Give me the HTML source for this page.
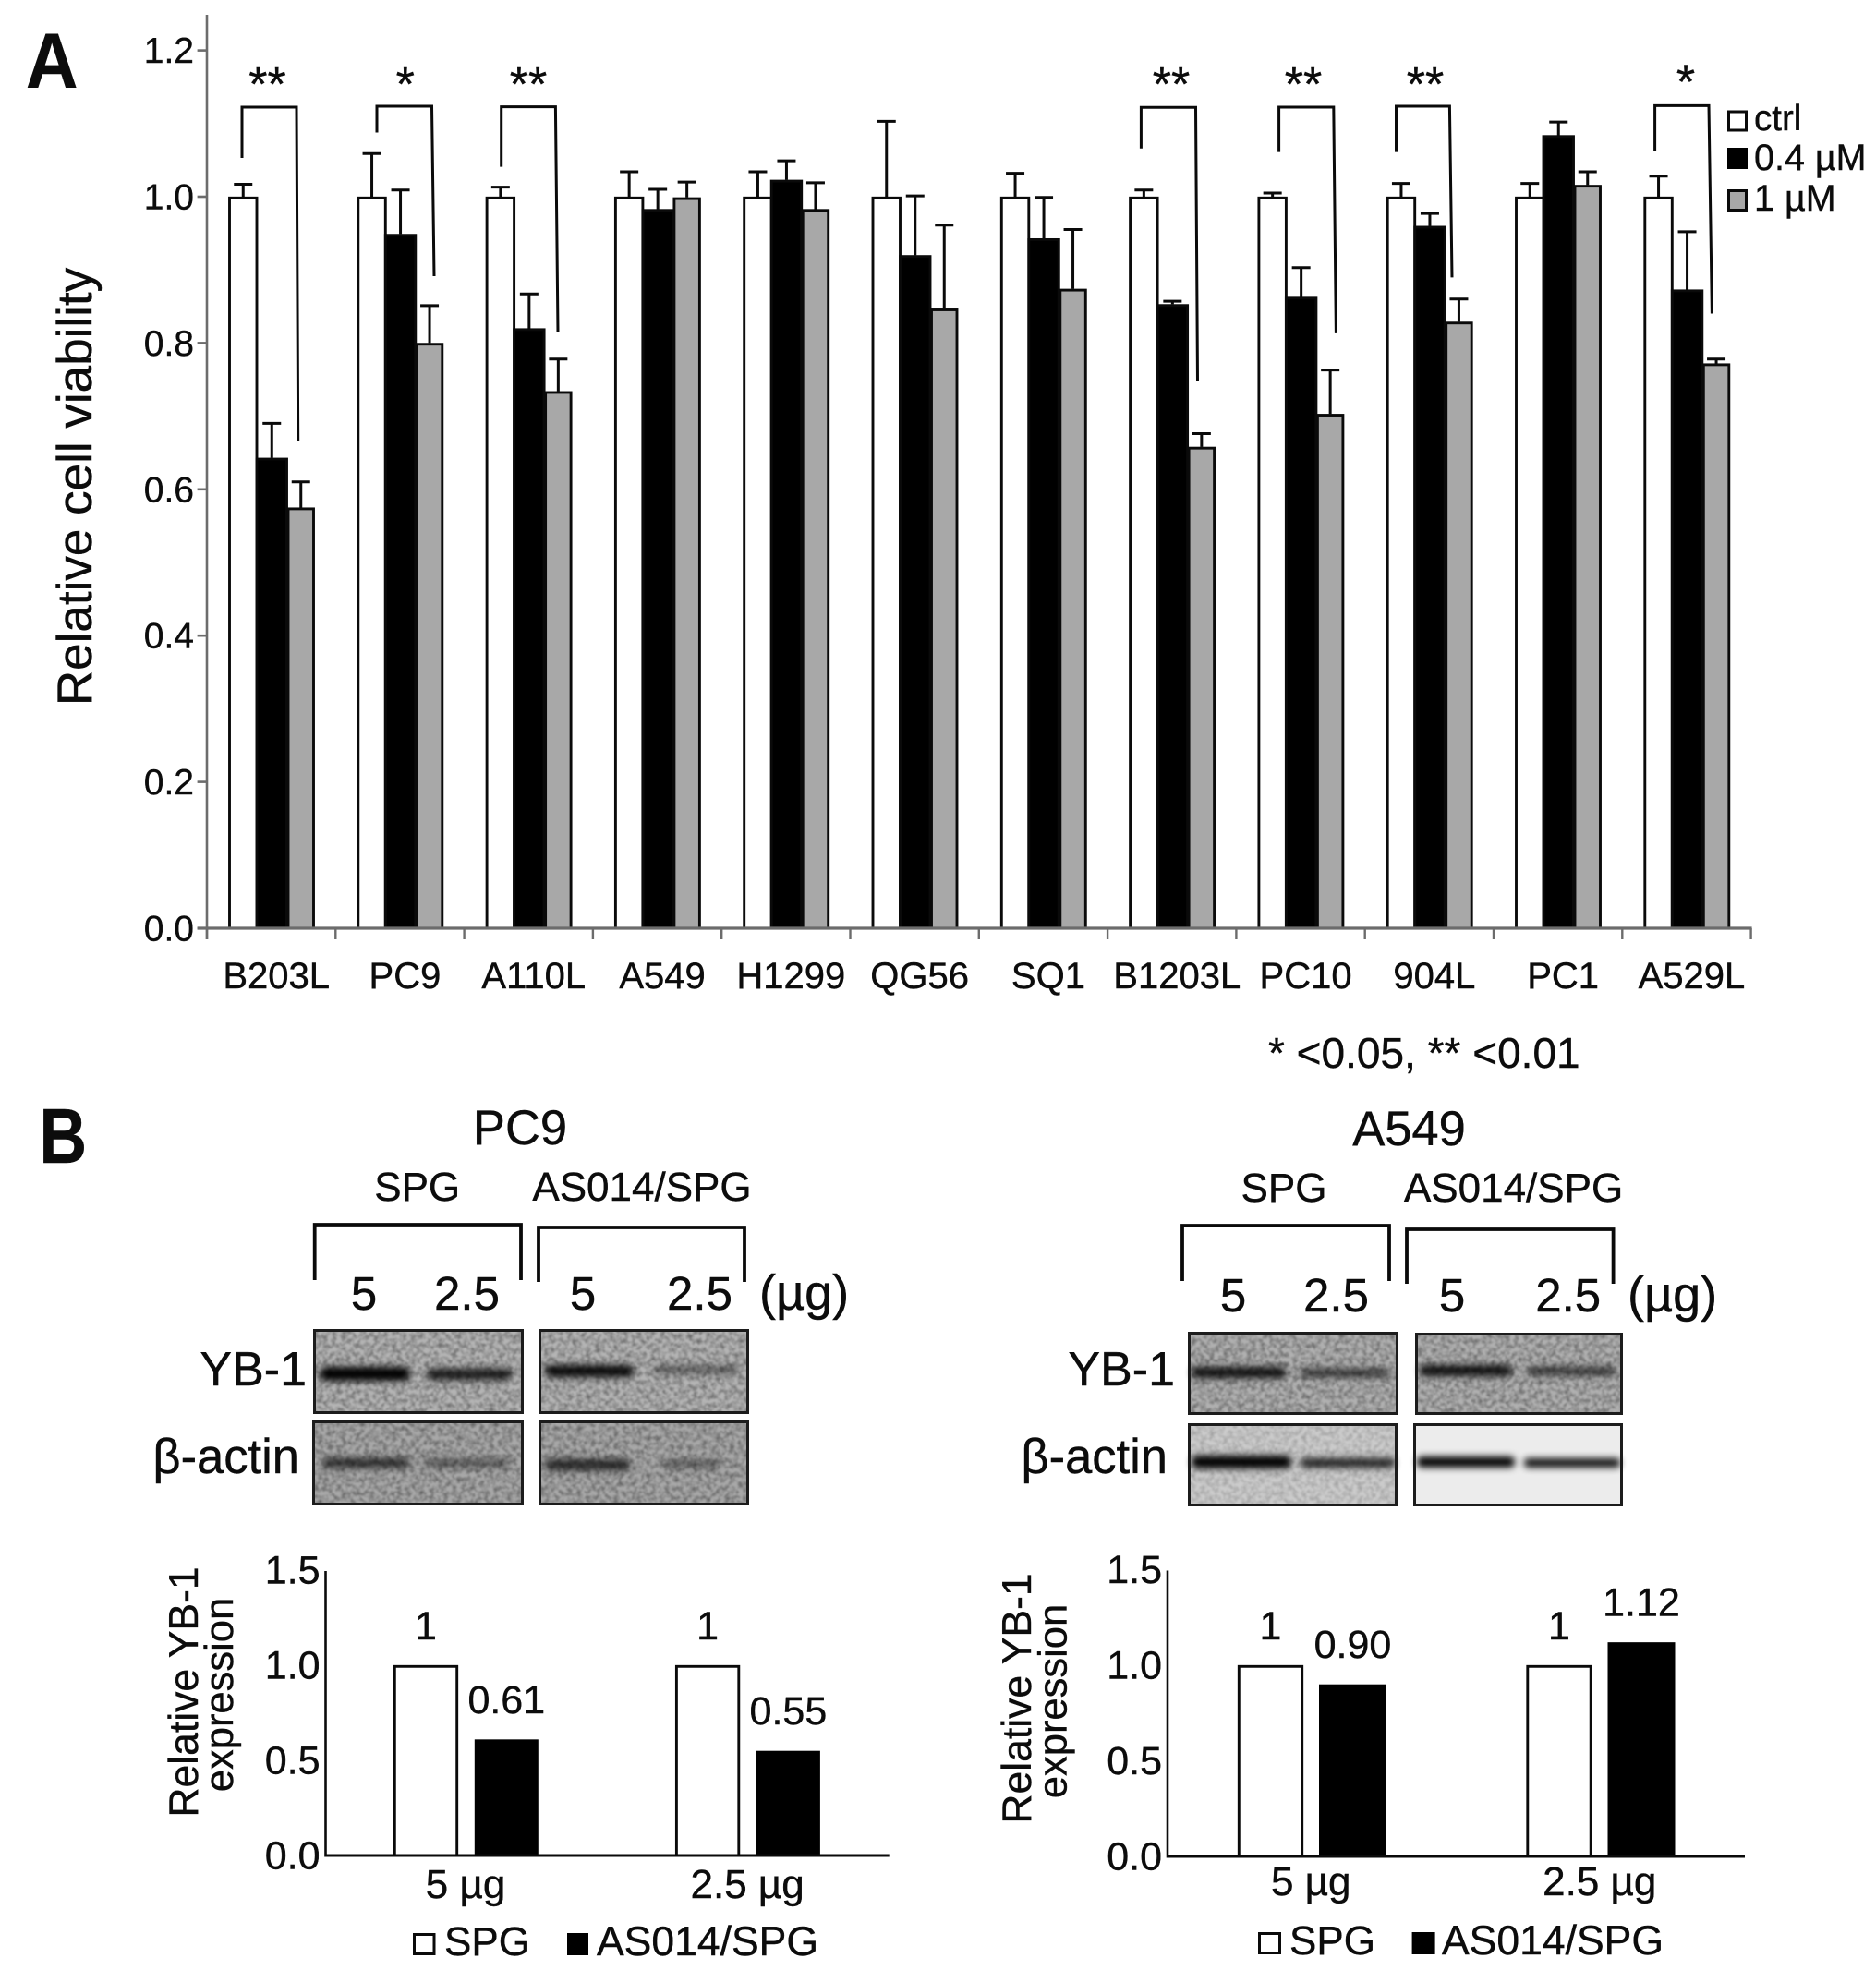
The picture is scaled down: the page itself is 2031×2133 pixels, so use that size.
<!DOCTYPE html>
<html lang="en">
<head>
<meta charset="utf-8">
<title>Cell viability and YB-1 expression</title>
<style>
html,body{margin:0;padding:0;background:#fff;}
svg{display:block;}
text{font-family:"Liberation Sans",Arial,sans-serif;fill:#0c0c0c;stroke:#0c0c0c;stroke-width:0.4;}
.bracket{fill:none;stroke:#0a0a0a;stroke-width:3;}
.dose{fill:none;stroke:#0a0a0a;stroke-width:3.8;}
.frame{fill:none;stroke:#1c1c1c;stroke-width:3;}
.band{fill:#050505;filter:url(#blur3);}
.noise{filter:url(#noise);}
</style>
</head>
<body>
<svg xmlns="http://www.w3.org/2000/svg" width="2031" height="2133" viewBox="0 0 2031 2133">
  <defs>
    <filter id="blur3" x="-20%" y="-150%" width="140%" height="400%"><feGaussianBlur stdDeviation="4"/></filter>
    <filter id="noise" x="0" y="0" width="100%" height="100%">
      <feTurbulence type="fractalNoise" baseFrequency="0.2" numOctaves="2" seed="7"/>
      <feColorMatrix type="matrix" values="0 0 0 0 0  0 0 0 0 0  0 0 0 0 0  0.8 0 0 0 -0.28"/>
      <feGaussianBlur stdDeviation="0.7"/>
    </filter>
  </defs>
  <rect width="2031" height="2133" fill="#fff"/>

  <text transform="translate(28,95) scale(0.93,1)" font-size="84" font-weight="700">A</text>
  <text transform="translate(42.5,1259) scale(0.85,1)" font-size="84" font-weight="700">B</text>

  <g id="viability-chart"></g>

  <text transform="translate(99,527) rotate(-90)" text-anchor="middle" font-size="53">Relative cell viability</text>

  <g>
    <path class="bracket" d="M262 171V116H321L322.7 478"/>
    <path class="bracket" d="M408 143.5V115H467.5L470 299"/>
    <path class="bracket" d="M542.7 180.6V115.6H601.4L604 360"/>
    <path class="bracket" d="M1235.4 160.7V116.3H1294.5L1296.5 412.5"/>
    <path class="bracket" d="M1384.6 164.6V116H1443.8L1446.4 360.9"/>
    <path class="bracket" d="M1511.5 164.6V115H1569.4L1572 300.4"/>
    <path class="bracket" d="M1791.6 163V114.4H1850L1853.4 339.5"/>
    <g font-size="52" text-anchor="middle">
      <text x="289.5" y="109">**</text>
      <text x="438.8" y="109">*</text>
      <text x="572" y="109">**</text>
      <text x="1268" y="109">**</text>
      <text x="1411" y="109">**</text>
      <text x="1543" y="109">**</text>
      <text x="1825" y="106.5">*</text>
    </g>
  </g>

  <g>
    <rect x="1871.5" y="121" width="19" height="20" fill="#fff" stroke="#0a0a0a" stroke-width="3"/>
    <rect x="1870" y="160" width="22" height="23" fill="#000"/>
    <rect x="1871.5" y="206.5" width="19" height="21" fill="#a8a8a8" stroke="#0a0a0a" stroke-width="3"/>
    <text x="1899" y="141" font-size="38.5">ctrl</text>
    <text x="1899" y="184" font-size="39.5">0.4 µM</text>
    <text x="1899" y="228" font-size="39.5">1 µM</text>
  </g>

  <text x="1373" y="1156" font-size="46">* &lt;0.05, ** &lt;0.01</text>

  <!-- PC9 blots -->
  <g>
    <text x="563" y="1239" font-size="52.5" text-anchor="middle">PC9</text>
    <text x="451.7" y="1300" font-size="44" text-anchor="middle">SPG</text>
    <text x="695" y="1300" font-size="44" text-anchor="middle">AS014/SPG</text>
    <path class="dose" d="M340.7 1386V1326H564V1386"/>
    <path class="dose" d="M583 1388V1329H806V1388"/>
    <g font-size="51" text-anchor="middle">
      <text x="394" y="1418">5</text>
      <text x="505.5" y="1418">2.5</text>
      <text x="631" y="1418">5</text>
      <text x="757.5" y="1418">2.5</text>
    </g>
    <text x="822" y="1418" font-size="54">(µg)</text>
    <text x="332" y="1500" font-size="52" text-anchor="end">YB-1</text>
    <text x="324" y="1595" font-size="52.5" text-anchor="end">β-actin</text>

    <g>
      <rect x="339" y="1439" width="228" height="92" fill="#b4b4b4"/>
      <rect class="noise" x="339" y="1439" width="228" height="92"/>
      <rect class="band" x="346" y="1480" width="98" height="15" rx="7"/>
      <rect class="band" x="462" y="1482" width="92" height="12" rx="5" opacity="0.85"/>
      <rect class="frame" x="340.5" y="1440.5" width="225" height="89"/>
    </g>
    <g>
      <rect x="583" y="1439" width="228" height="92" fill="#b4b4b4"/>
      <rect class="noise" x="583" y="1439" width="228" height="92"/>
      <rect class="band" x="590" y="1478" width="96" height="13" rx="6" opacity="0.95"/>
      <rect class="band" x="708" y="1479" width="92" height="8" rx="3" opacity="0.5"/>
      <rect class="frame" x="584.5" y="1440.5" width="225" height="89"/>
    </g>
    <g>
      <rect x="338" y="1538" width="229" height="92" fill="#a8a8a8"/>
      <rect class="noise" x="338" y="1538" width="229" height="92"/>
      <rect class="band" x="349" y="1579" width="94" height="10" rx="4" opacity="0.75"/>
      <rect class="band" x="459" y="1580" width="92" height="8" rx="3" opacity="0.5"/>
      <rect class="frame" x="339.5" y="1539.5" width="226" height="89"/>
    </g>
    <g>
      <rect x="583" y="1538" width="228" height="92" fill="#a8a8a8"/>
      <rect class="noise" x="583" y="1538" width="228" height="92"/>
      <rect class="band" x="590" y="1580" width="92" height="12" rx="5" opacity="0.75"/>
      <rect class="band" x="718" y="1581" width="62" height="8" rx="3" opacity="0.45"/>
      <rect class="frame" x="584.5" y="1539.5" width="225" height="89"/>
    </g>
  </g>

  <!-- A549 blots -->
  <g>
    <text x="1525.5" y="1240" font-size="52.5" text-anchor="middle">A549</text>
    <text x="1390" y="1301" font-size="44" text-anchor="middle">SPG</text>
    <text x="1638.6" y="1301" font-size="44" text-anchor="middle">AS014/SPG</text>
    <path class="dose" d="M1280 1387V1327H1504V1387"/>
    <path class="dose" d="M1523 1390V1331H1746.6V1390"/>
    <g font-size="51" text-anchor="middle">
      <text x="1335" y="1420">5</text>
      <text x="1446.5" y="1420">2.5</text>
      <text x="1572" y="1420">5</text>
      <text x="1697.7" y="1420">2.5</text>
    </g>
    <text x="1762" y="1420" font-size="54">(µg)</text>
    <text x="1272" y="1500" font-size="52" text-anchor="end">YB-1</text>
    <text x="1264" y="1595" font-size="52.5" text-anchor="end">β-actin</text>

    <g>
      <rect x="1286" y="1442" width="228" height="90" fill="#b0b0b0"/>
      <rect class="noise" x="1286" y="1442" width="228" height="90"/>
      <rect class="band" x="1290" y="1480" width="102" height="12" rx="5" opacity="0.9"/>
      <rect class="band" x="1408" y="1482" width="96" height="9" rx="4" opacity="0.7"/>
      <rect class="frame" x="1287.5" y="1443.5" width="225" height="87"/>
    </g>
    <g>
      <rect x="1532" y="1443" width="225" height="89" fill="#b0b0b0"/>
      <rect class="noise" x="1532" y="1443" width="225" height="89"/>
      <rect class="band" x="1537" y="1478" width="100" height="12" rx="5" opacity="0.9"/>
      <rect class="band" x="1653" y="1480" width="96" height="9" rx="4" opacity="0.7"/>
      <rect class="frame" x="1533.5" y="1444.5" width="222" height="86"/>
    </g>
    <g>
      <rect x="1286" y="1541" width="227" height="90" fill="#cbcbcb"/>
      <rect class="noise" x="1286" y="1541" width="227" height="90" opacity="0.5"/>
      <rect class="band" x="1290" y="1576" width="108" height="14" rx="6"/>
      <rect class="band" x="1408" y="1579" width="102" height="10" rx="4" opacity="0.85"/>
      <rect class="frame" x="1287.5" y="1542.5" width="224" height="87"/>
    </g>
    <g>
      <rect x="1530" y="1541" width="227" height="90" fill="#ececec"/>
      <rect class="band" x="1534" y="1577" width="106" height="12" rx="5"/>
      <rect class="band" x="1650" y="1579" width="104" height="10" rx="4" opacity="0.95"/>
      <rect class="frame" x="1531.5" y="1542.5" width="224" height="87"/>
    </g>
  </g>

  <g id="pc9-chart"></g>
  <g id="a549-chart"></g>

  <g text-anchor="middle">
    <text transform="translate(214,1832) rotate(-90)" font-size="44.5">Relative YB-1</text>
    <text transform="translate(252,1835) rotate(-90)" font-size="43.5">expression</text>
  </g>
  <g text-anchor="middle">
    <text transform="translate(1116,1839) rotate(-90)" font-size="44.5">Relative YB-1</text>
    <text transform="translate(1154.6,1842) rotate(-90)" font-size="43.5">expression</text>
  </g>

  <g>
    <rect x="448.5" y="2094.5" width="21.5" height="21" fill="#fff" stroke="#0a0a0a" stroke-width="3"/>
    <text x="481" y="2117" font-size="44">SPG</text>
    <rect x="614" y="2093" width="23" height="24" fill="#000"/>
    <text x="646" y="2117" font-size="44.5">AS014/SPG</text>
  </g>
  <g>
    <rect x="1363.5" y="2093.5" width="22" height="21" fill="#fff" stroke="#0a0a0a" stroke-width="3"/>
    <text x="1396" y="2116" font-size="44">SPG</text>
    <rect x="1528.6" y="2092" width="25" height="24" fill="#000"/>
    <text x="1561" y="2116" font-size="44.5">AS014/SPG</text>
  </g>
</svg>

<script>
// Panel A data
var cellLines = ['B203L','PC9','A110L','A549','H1299','QG56','SQ1','B1203L','PC10','904L','PC1','A529L'];
var ctrlValues = [1,1,1,1,1,1,1,1,1,1,1,1];
var ctrlErrorTops = [1.019,1.061,1.015,1.036,1.036,1.105,1.034,1.011,1.007,1.02,1.02,1.03];
var dose04Values = [0.643,0.949,0.82,0.983,1.023,0.92,0.943,0.853,0.863,0.96,1.084,0.873];
var dose04ErrorTops = [0.692,1.011,0.869,1.012,1.051,1.003,1.001,0.859,0.905,0.979,1.104,0.954];
var dose1Values = [0.575,0.80,0.734,0.999,0.983,0.847,0.874,0.658,0.703,0.829,1.016,0.772];
var dose1ErrorTops = [0.612,0.853,0.78,1.022,1.021,0.963,0.957,0.678,0.765,0.862,1.036,0.78];
var viabilityTicks = [0,0.2,0.4,0.6,0.8,1.0,1.2];

// Panel B data
var doseCategories = ['5 µg','2.5 µg'];
var expressionTicks = [0,0.5,1.0,1.5];
var pc9Spg = [1,1];
var pc9As014 = [0.61,0.55];
var pc9SpgLabels = ['1','1'];
var pc9As014Labels = ['0.61','0.55'];
var a549Spg = [1,1];
var a549As014 = [0.90,1.12];
var a549SpgLabels = ['1','1'];
var a549As014Labels = ['0.90','1.12'];

var NS = 'http://www.w3.org/2000/svg';
function mk(tag, parent, attrs) {
  var el = document.createElementNS(NS, tag);
  for (var k in attrs) el.setAttribute(k, attrs[k]);
  parent.appendChild(el);
  return el;
}

// Panel A
(function () {
  var root = document.getElementById('viability-chart');
  var axisColor = '#6c6c6c';
  function y(v) { return 1005 - 792 * v; }
  function x(i) { return 224 + 139.3 * i; }
  var series = [
    { name: 'ctrl', vals: ctrlValues, errs: ctrlErrorTops, off: 24.5, w: 29.5, fill: '#ffffff' },
    { name: 'dose-1', vals: dose1Values, errs: dose1ErrorTops, off: 88, w: 27.5, fill: '#a8a8a8' },
    { name: 'dose-0-4', vals: dose04Values, errs: dose04ErrorTops, off: 54, w: 32.5, fill: '#000000' }
  ];
  series.forEach(function (s) {
    s.vals.forEach(function (v, i) {
      var cx = x(i) + s.off + s.w / 2;
      var err = mk('path', root, { d: 'M' + cx + ' ' + y(v) + 'V' + y(s.errs[i]) + 'M' + (cx - 10) + ' ' + (y(s.errs[i]) + 1.5) + 'H' + (cx + 10), fill: 'none', stroke: '#0a0a0a', 'stroke-width': 3 });
      
      
      var bar = mk('rect', root, { x: x(i) + s.off, y: y(v) + 1.3, width: s.w, height: Math.max(0, y(0) - y(v) - 1.3), fill: s.fill, stroke: '#0a0a0a', 'stroke-width': 2.9 });
      
      
    });
  });
  var yAxis = mk('line', root, { x1: 224, x2: 224, y1: 16, y2: 1017, stroke: axisColor, 'stroke-width': 2.6 });
  
  
  var xAxis = mk('line', root, { x1: 213.6, x2: x(cellLines.length) + 1, y1: y(0), y2: y(0), stroke: axisColor, 'stroke-width': 3.2 });
  
  
  viabilityTicks.forEach(function (t) {
    var tick = mk('line', root, { x1: 213.6, x2: 224, y1: y(t), y2: y(t), stroke: axisColor, 'stroke-width': 2.6 });
    
    
    var label = mk('text', root, { x: 210, y: y(t) + 13.5, 'font-size': 39, 'text-anchor': 'end' });
    label.textContent = t.toFixed(1);
    
    
  });
  for (var i = 0; i <= cellLines.length; i++) {
    var tk = mk('line', root, { x1: x(i), x2: x(i), y1: y(0), y2: 1017, stroke: axisColor, 'stroke-width': 2.4 });
    
    
  }
  cellLines.forEach(function (c, i) {
    var label = mk('text', root, { x: x(i) + 139.3 / 2 + 5.5, y: 1070, 'font-size': 40, 'text-anchor': 'middle' });
    label.textContent = c;
    
    
  });
})();

// Panel B bar charts
function drawExpressionChart(rootId, prefix, spg, as014, spgLabels, as014Labels, g) {
  var root = document.getElementById(rootId);
  function y(v) { return g.zero - g.unit * v; }
  function x(i) { return g.left + g.band * i; }
  doseCategories.forEach(function (c, i) {
    var a = mk('rect', root, { x: x(i) + g.whiteOff + 1.3, y: y(spg[i]) + 1.3, width: g.whiteW - 2.6, height: y(0) - y(spg[i]) - 1.3, fill: '#fff', stroke: '#0a0a0a', 'stroke-width': 2.9 });
    
    
    var b = mk('rect', root, { x: x(i) + g.blackOff, y: y(as014[i]), width: g.blackW, height: y(0) - y(as014[i]), fill: '#000' });
    
    
    var la = mk('text', root, { x: x(i) + g.whiteOff + g.whiteW / 2, y: y(spg[i]) - 28, 'font-size': 43, 'text-anchor': 'middle' });
    la.textContent = spgLabels[i];
    
    
    var lb = mk('text', root, { x: x(i) + g.blackOff + g.blackW / 2, y: y(as014[i]) - 28.5, 'font-size': 43, 'text-anchor': 'middle' });
    lb.textContent = as014Labels[i];
    
    
    var cat = mk('text', root, { x: x(i) + g.band / 2 - 1, y: g.catY, 'font-size': 44, 'text-anchor': 'middle' });
    cat.textContent = c;
    
    
  });
  var yAxis = mk('line', root, { x1: g.left, x2: g.left, y1: y(1.5) + 1, y2: y(0) + 1.5, stroke: '#0a0a0a', 'stroke-width': 2.6 });
  
  
  var xAxis = mk('line', root, { x1: g.left - 1, x2: g.left + g.band * doseCategories.length, y1: y(0), y2: y(0), stroke: '#0a0a0a', 'stroke-width': 3 });
  
  
  expressionTicks.forEach(function (t) {
    var label = mk('text', root, { x: g.left - 6, y: y(t) + 14.5, 'font-size': 43, 'text-anchor': 'end' });
    label.textContent = t.toFixed(1);
    
    
  });
}
drawExpressionChart('pc9-chart', 'pc9', pc9Spg, pc9As014, pc9SpgLabels, pc9As014Labels,
  { left: 352.5, band: 305.1, zero: 2009, unit: 206, whiteOff: 73.5, whiteW: 70, blackOff: 161.3, blackW: 69, catY: 2055 });
drawExpressionChart('a549-chart', 'a549', a549Spg, a549As014, a549SpgLabels, a549As014Labels,
  { left: 1264, band: 312.5, zero: 2010, unit: 207, whiteOff: 76, whiteW: 71, blackOff: 164, blackW: 73, catY: 2052 });
</script>
</body>
</html>
